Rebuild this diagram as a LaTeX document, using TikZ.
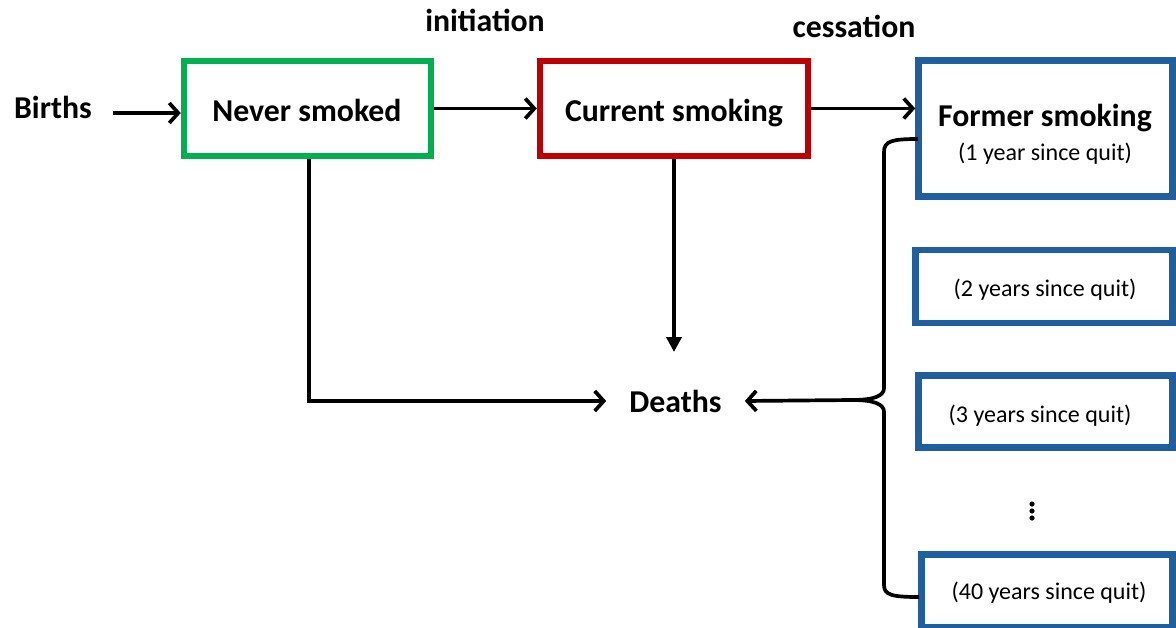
\documentclass[tikz,border=0pt]{standalone}
\usepackage{fontspec}
\setmainfont{Carlito}
\usetikzlibrary{arrows.meta,calc}
\definecolor{nevergreen}{HTML}{00B050}
\definecolor{currentred}{HTML}{C00000}
\definecolor{formerblue}{HTML}{1F5F9F}
\begin{document}
\begin{tikzpicture}[x=1pt,y=-1pt,
  box/.style={draw, line width=6.5pt, fill=white, inner sep=0pt},
  bigtxt/.style={font=\fontsize{31.8}{38}\selectfont\bfseries, inner sep=0pt},
  smalltxt/.style={font=\fontsize{24}{29}\selectfont, inner sep=0pt},
  flow/.style={line width=3.7pt, -{Straight Barb[length=9pt,width=20pt]}},
  drop/.style={line width=3.7pt, -{Triangle[length=15pt,width=15pt]}},
  plain/.style={line width=3.7pt},
]
\useasboundingbox (0,0) rectangle (1176,627);

% state boxes
\node[box, draw=nevergreen, minimum width=247pt, minimum height=95pt] (never) at (307.5,108.5) {};
\node[box, draw=currentred, minimum width=268pt, minimum height=95pt] (current) at (674,108.5) {};
\node[box, draw=formerblue, minimum width=254pt, minimum height=136pt] (former) at (1045.5,128.5) {};
\node[box, draw=formerblue, minimum width=257pt, minimum height=73pt] (former2) at (1044,286.5) {};
\node[box, draw=formerblue, minimum width=254pt, minimum height=72pt] (former3) at (1045.5,411.5) {};
\node[box, draw=formerblue, minimum width=251pt, minimum height=73pt] (former40) at (1047,591) {};

% box texts
\node[bigtxt] (nevertxt) at (307,110) {Never smoked};
\node[bigtxt] (currenttxt) at (674,113) {Current smoking};
\node[bigtxt] (formertxt) at (1045,118) {Former smoking};
\node[smalltxt] (y1txt) at (1045,154) {(1 year since quit)};
\node[smalltxt] (y2txt) at (1045,290) {(2 years since quit)};
\node[smalltxt] (y3txt) at (1040,416) {(3 years since quit)};
\node[smalltxt] (y40txt) at (1049,593) {(40 years since quit)};

% free labels
\node[bigtxt] (births) at (53,107) {Births};
\node[bigtxt] (initiation) at (485,20) {initiation};
\node[bigtxt] (cessation) at (854,26) {cessation};
\node[bigtxt, inner xsep=23pt, inner ysep=0pt] (deaths) at (675.5,401) {Deaths};

% vertical ellipsis between the quit-duration boxes
\foreach \yy/\nm in {504/da,511/db,518/dc}
  \fill (1032,\yy) circle[radius=2.6pt] coordinate (\nm);

% flows
\coordinate (bstart) at (113,113);
\draw[flow] (bstart) -- (bstart -| never.west);
\draw[flow] (never.east) -- (current.west);
\draw[flow] (current.east) -- (current.east -| former.west);

\coordinate (dtop) at (674,352);
\draw[drop] (current.south) -- (current.south |- dtop);

\coordinate (nturn) at (309,401);
\draw[plain] (never.south -| nturn) -- ([yshift=-2pt]nturn);
\draw[flow] (nturn) -- (deaths.west);

% brace collecting the former-smoking boxes
\coordinate (btop) at (918,139);
\coordinate (bbot) at (919,597);
\coordinate (bcusp) at (852,400);
\draw[plain, line join=round]
  (btop) .. controls (892,139) and (884,141) .. (884,152)
  -- (884,388) .. controls (884,396) and (874,400) .. (bcusp)
  .. controls (874,400) and (884,404) .. (884,412)
  -- (884,585) .. controls (884,595) and (892,597) .. (bbot);
\draw[flow] (bcusp) -- (deaths.east);
\end{tikzpicture}
\end{document}
